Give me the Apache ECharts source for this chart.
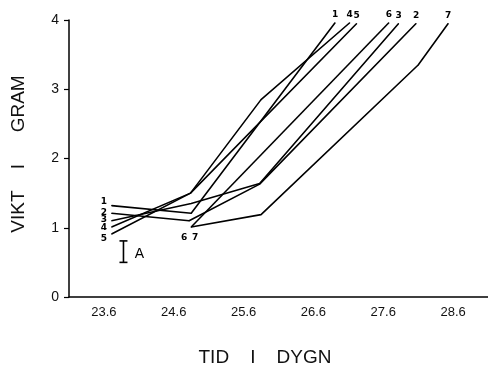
<!DOCTYPE html>
<html>
<head>
<meta charset="utf-8">
<script src="https://cdn.jsdelivr.net/npm/echarts@6/dist/echarts.min.js"></script>
<style>html,body{margin:0;padding:0;background:#fff}#chart{width:488px;height:373px}</style>
</head>
<body>
<div id="chart"></div>
<script>
// tidsaxeln: kategorier per dygn, data i dygn räknat från början av 23.6
const dayLabels = ['23.6', '24.6', '25.6', '26.6', '27.6', '28.6']
const line1 = [[0.61, 1.32], [1.75, 1.21], [3.81, 3.96]]
const line2 = [[0.61, 1.21], [1.72, 1.10], [2.73, 1.63], [4.97, 3.95]]
const line3 = [[0.61, 1.10], [1.75, 1.35], [2.73, 1.64], [4.72, 3.95]]
const line4 = [[0.61, 1.01], [1.74, 1.50], [2.75, 2.85], [4.02, 3.96]]
const line5 = [[0.61, 0.91], [1.74, 1.50], [4.12, 3.95]]
const line6 = [[1.75, 1.01], [4.58, 3.96]]
const line7 = [[1.75, 1.01], [2.75, 1.19], [5.00, 3.35], [5.43, 3.95]]
const errBar = [[0.78, 0.50, 0.81]]  // x, lo, hi

const lines = [line1, line2, line3, line4, line5, line6, line7]
// label tweaks (px) for start numbers
const startOffset = [[0, -4], [0, -1], [0, -1], [0, 1], [0, 5], [-7, 0], [4, 0]]

const numFont = { fontFamily: 'DejaVu Sans', fontSize: 9, fontWeight: 'bold', color: '#000' }

const mkData = (pts, i) => pts.map((p, k) => {
  const item = { value: p }
  if (k === 0) {
    const bottom = i >= 5
    item.label = { show: true, position: bottom ? 'bottom' : 'left', distance: bottom ? 6 : 4,
      offset: startOffset[i], formatter: String(i + 1), ...numFont }
  } else if (k === pts.length - 1) {
    item.label = { show: true, position: 'top', distance: 3, formatter: String(i + 1), ...numFont }
  }
  return item
})

const chart = echarts.init(document.getElementById('chart'))
chart.setOption({
  animation: false,
  grid: { left: 69, right: -4, top: 20, bottom: 76 },
  xAxis: [{
    type: 'category', data: dayLabels, boundaryGap: true,
    axisLine: { lineStyle: { color: '#000', width: 1.5 } },
    axisTick: { length: 5, lineStyle: { color: '#000', width: 1.2 } },
    axisLabel: { color: '#111', fontFamily: 'Liberation Sans', fontSize: 13, margin: 9 },
    splitLine: { show: false }
  }, {
    type: 'value', min: 0, max: 6, show: false
  }],
  yAxis: {
    type: 'value', min: 0, max: 4, interval: 1,
    axisLine: { show: true, lineStyle: { color: '#000', width: 1.5 } },
    axisTick: { show: true, length: 5, lineStyle: { color: '#000', width: 1.2 } },
    axisLabel: { color: '#111', fontFamily: 'Liberation Sans', fontSize: 14, margin: 10 },
    splitLine: { show: false }
  },
  graphic: [
    { type: 'text', x: 19, y: 154, rotation: Math.PI / 2,
      style: { text: 'VIKT    I      GRAM', fontFamily: 'Liberation Sans', fontSize: 19, fill: '#111',
        align: 'center', verticalAlign: 'middle' } },
    { type: 'text', x: 265, y: 358,
      style: { text: 'TID    I    DYGN', fontFamily: 'Liberation Sans', fontSize: 19, fill: '#111',
        align: 'center', verticalAlign: 'middle' } }
  ],
  series: [
    ...lines.map((pts, i) => ({
      type: 'line', name: String(i + 1), xAxisIndex: 1, data: mkData(pts, i),
      symbol: 'circle', symbolSize: 1, showAllSymbol: true, itemStyle: { color: '#000' },
      lineStyle: { color: '#000', width: 1.6 }, z: 3
    })),
    {
      type: 'custom', xAxisIndex: 1, data: errBar, encode: { x: 0, y: [1, 2] },
      renderItem: (params, api) => {
        const lo = api.coord([api.value(0), api.value(1)])
        const hi = api.coord([api.value(0), api.value(2)])
        const st = { stroke: '#000', lineWidth: 1.6 }
        return { type: 'group', children: [
          { type: 'line', shape: { x1: lo[0], y1: lo[1], x2: hi[0], y2: hi[1] }, style: st },
          { type: 'line', shape: { x1: lo[0] - 4, y1: lo[1], x2: lo[0] + 4, y2: lo[1] }, style: st },
          { type: 'line', shape: { x1: hi[0] - 4, y1: hi[1], x2: hi[0] + 4, y2: hi[1] }, style: st },
          { type: 'text', x: lo[0] + 16, y: (lo[1] + hi[1]) / 2 + 2,
            style: { text: 'A', fontFamily: 'Liberation Sans', fontSize: 14, fill: '#000', align: 'center', verticalAlign: 'middle' } }
        ] }
      }
    }
  ]
})
</script>
</body>
</html>
